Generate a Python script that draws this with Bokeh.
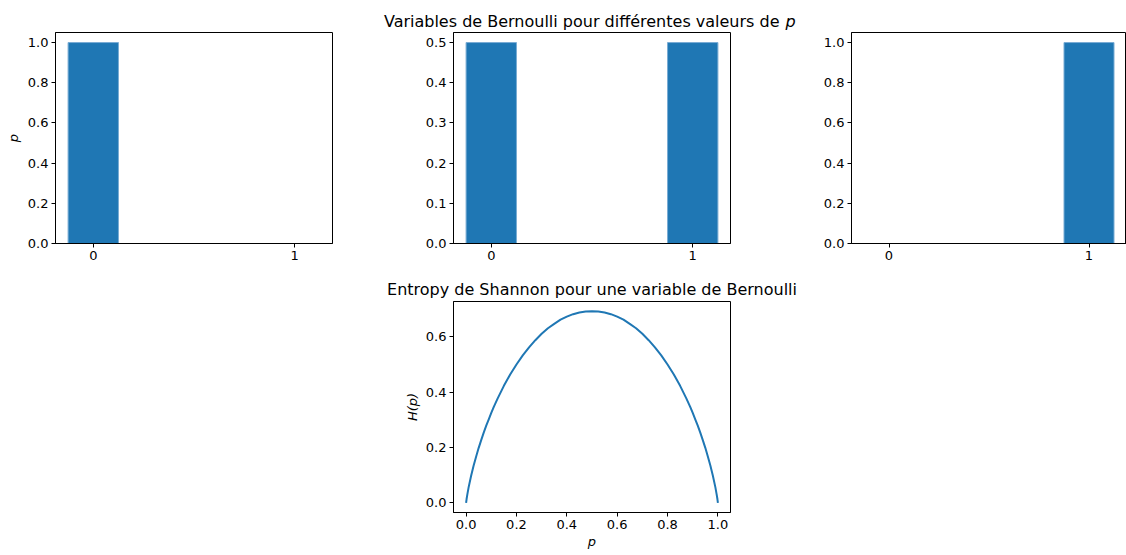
from bokeh.plotting import figure
from bokeh.layouts import column, row
from bokeh.models import Range1d, FixedTicker, PrintfTickFormatter, Spacer
from bokeh.core.properties import value
from bokeh.embed import file_html
from bokeh.resources import INLINE

# Outcomes of a Bernoulli variable and their probabilities for three values of p
outcomes = [0, 1]
probs_p0 = [1.0, 0.0]
probs_half = [0.5, 0.5]
probs_p1 = [0.0, 1.0]

# Shannon entropy (nats) of a Bernoulli variable as a function of p
p_values = [0.0, 0.002, 0.005, 0.01, 0.02, 0.03, 0.04, 0.05, 0.06, 0.07, 0.08,
            0.09, 0.10, 0.11, 0.125, 0.15, 0.175, 0.20, 0.225, 0.25, 0.275,
            0.30, 0.325, 0.35, 0.375, 0.40, 0.425, 0.45, 0.475, 0.50, 0.525,
            0.55, 0.575, 0.60, 0.625, 0.65, 0.675, 0.70, 0.725, 0.75, 0.775,
            0.80, 0.825, 0.85, 0.875, 0.89, 0.90, 0.91, 0.92, 0.93, 0.94, 0.95,
            0.96, 0.97, 0.98, 0.99, 0.995, 0.998, 1.0]
entropy = [0.0, 0.014, 0.031, 0.056, 0.098, 0.135, 0.168, 0.199, 0.227, 0.254,
           0.279, 0.302, 0.325, 0.347, 0.377, 0.423, 0.464, 0.500, 0.533, 0.562,
           0.588, 0.611, 0.631, 0.647, 0.662, 0.673, 0.682, 0.688, 0.692, 0.693,
           0.692, 0.688, 0.682, 0.673, 0.662, 0.647, 0.631, 0.611, 0.588, 0.562,
           0.533, 0.500, 0.464, 0.423, 0.377, 0.347, 0.325, 0.302, 0.279, 0.254,
           0.227, 0.199, 0.168, 0.135, 0.098, 0.056, 0.031, 0.014, 0.0]

FONT = "DejaVu Sans"
BLUE = "#1f77b4"
TICK_PX = "13px"
TITLE_PX = "16px"
PAGE_W = 1126


def style(fig, xticks, yticks, xfmt, yfmt):
    fig.xgrid.visible = False
    fig.ygrid.visible = False
    fig.outline_line_color = "black"
    fig.outline_line_width = 1
    fig.background_fill_color = "white"
    fig.border_fill_color = "white"
    for ax in (fig.xaxis[0], fig.yaxis[0]):
        ax.axis_line_color = "black"
        ax.major_tick_line_color = "black"
        ax.major_tick_in = 0
        ax.major_tick_out = 4
        ax.minor_tick_line_color = None
        ax.major_label_text_font = FONT
        ax.major_label_text_font_size = TICK_PX
        ax.major_label_text_color = "black"
        ax.major_label_standoff = 3
        ax.axis_label_text_font = FONT
        ax.axis_label_text_font_size = TICK_PX
        ax.axis_label_text_font_style = "italic"
        ax.axis_label_text_color = "black"
    fig.xaxis[0].ticker = FixedTicker(ticks=xticks)
    fig.yaxis[0].ticker = FixedTicker(ticks=yticks)
    fig.xaxis[0].formatter = PrintfTickFormatter(format=xfmt)
    fig.yaxis[0].formatter = PrintfTickFormatter(format=yfmt)


def heading_strip(height):
    """A full-width strip without axes, used to hold a panel heading."""
    strip = figure(width=PAGE_W, height=height, output_backend="svg",
                   toolbar_location=None, x_range=Range1d(0, PAGE_W),
                   y_range=Range1d(0, height), min_border=0,
                   x_axis_type=None, y_axis_type=None)
    strip.outline_line_color = None
    strip.xgrid.visible = False
    strip.ygrid.visible = False
    return strip


def bar_panel(probs, width, left, right, ymax, yticks, ylabel=None):
    fig = figure(width=width, height=239, output_backend="svg",
                 toolbar_location=None,
                 x_range=Range1d(-0.1875, 1.1875), y_range=Range1d(0, ymax),
                 min_border_left=left, min_border_right=right,
                 min_border_top=1, min_border_bottom=27)
    fig.vbar(x=outcomes, top=probs, width=0.25, fill_color=BLUE,
             line_color="#79acd4", line_width=1)
    style(fig, [0, 1], yticks, "%d", "%.1f")
    if ylabel:
        fig.yaxis[0].axis_label = ylabel
        fig.yaxis[0].axis_label_standoff = 4
    return fig


ticks_unit = [0.0, 0.2, 0.4, 0.6, 0.8, 1.0]
ticks_half = [0.0, 0.1, 0.2, 0.3, 0.4, 0.5]

f1 = bar_panel(probs_p0, 392, 55, 60, 1.05, ticks_unit, ylabel="p")
f2 = bar_panel(probs_half, 398, 61, 60, 0.525, ticks_half)
f3 = bar_panel(probs_p1, 336, 61, 0, 1.05, ticks_unit)

# Heading over the bar panels, with the symbol p in italics
head_top = heading_strip(31)
head_top.text(x=[779], y=[10], text=["Variables de Bernoulli pour différentes valeurs de"],
              text_font=value(FONT), text_font_size=TITLE_PX, text_color="black",
              text_align="right", text_baseline="alphabetic")
head_top.text(x=[785], y=[10], text=["p"],
              text_font=value(FONT), text_font_size=TITLE_PX, text_color="black",
              text_font_style="italic", text_align="left",
              text_baseline="alphabetic")

# Heading over the entropy panel
head_bottom = heading_strip(30)
head_bottom.text(x=[591.5], y=[11], text=["Entropy de Shannon pour une variable de Bernoulli"],
                 text_font=value(FONT), text_font_size=TITLE_PX, text_color="black",
                 text_align="center", text_baseline="alphabetic")

# Entropy curve
f4 = figure(width=398, height=255, output_backend="svg", toolbar_location=None,
            x_range=Range1d(-0.05, 1.05), y_range=Range1d(-0.0347, 0.7278),
            min_border_left=61, min_border_right=60,
            min_border_top=1, min_border_bottom=43)
f4.line(p_values, entropy, line_color=BLUE, line_width=2)
style(f4, [0.0, 0.2, 0.4, 0.6, 0.8, 1.0], [0.0, 0.2, 0.4, 0.6], "%.1f", "%.1f")
f4.xaxis[0].axis_label = "p"
f4.xaxis[0].axis_label_standoff = 2
f4.yaxis[0].axis_label = "H(p)"
f4.yaxis[0].axis_label_standoff = 3

top = column(head_top, row(f1, f2, f3, spacing=0), spacing=0)
bottom = column(head_bottom,
                row(Spacer(width=392, height=255), f4,
                    Spacer(width=336, height=255), spacing=0),
                spacing=0)
layout = column(top, bottom, spacing=0)

open("out.html", "w").write(file_html(layout, INLINE))
